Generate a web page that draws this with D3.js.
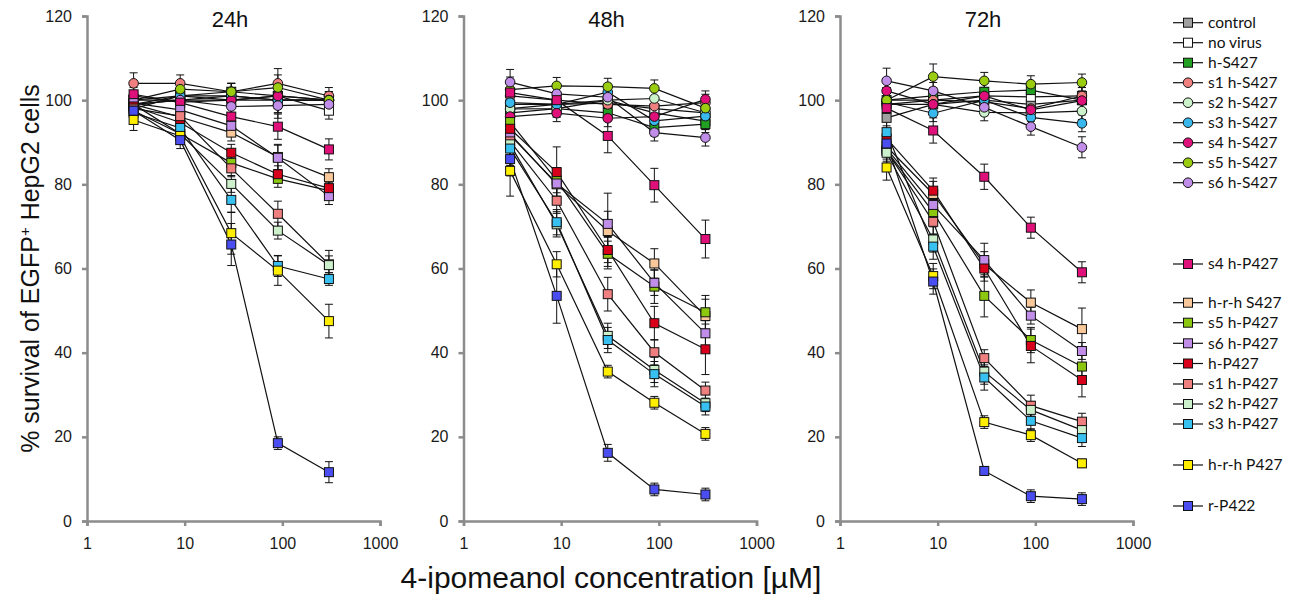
<!DOCTYPE html>
<html>
<head>
<meta charset="utf-8">
<script src="https://cdn.jsdelivr.net/npm/d3@7"></script>
<style>
  body { margin: 0; background: #fff; }
  svg text { font-family: "Liberation Sans", Arial, sans-serif; }
  .legend text { font-family: Lato, "Open Sans", sans-serif; }
</style>
</head>
<body>
<svg id="chart"></svg>
<script>
const width = 1303, height = 601;

// concentrations (µM) and time points
const concentrations = [3, 9, 30, 90, 300];
const timePoints = ["24h", "48h", "72h"];
const xTicks = [1, 10, 100, 1000];
const yTicks = [0, 20, 40, 60, 80, 100, 120];

const seriesNames = ["control", "no virus", "h-S427", "s1 h-S427", "s2 h-S427", "s3 h-S427",
  "s4 h-S427", "s5 h-S427", "s6 h-S427", "s4 h-P427", "h-r-h S427", "s5 h-P427", "s6 h-P427",
  "h-P427", "s1 h-P427", "s2 h-P427", "s3 h-P427", "h-r-h P427", "r-P422"];
const seriesShapes = ["sq", "sq", "sq", "ci", "ci", "ci", "ci", "ci", "ci",
  "sq", "sq", "sq", "sq", "sq", "sq", "sq", "sq", "sq", "sq"];
const seriesColors = ["#a0a0a0", "#ffffff", "#22a022", "#f08080", "#ccf2cc", "#38b8ec",
  "#e0107a", "#9acd10", "#c08ee8", "#e0107a", "#f8c89a", "#8cc810", "#c08ee8",
  "#d8001a", "#f07f80", "#ccf0cc", "#38c0f0", "#ffee00", "#4a4ef0"];

// % survival, one row per series (same order as seriesNames)
const survival24 = [
  [100, 100, 101, 100, 100],
  [99, 101, 100, 101, 97.5],
  [100, 101, 102, 101, 100],
  [104, 104, 102, 104, 101],
  [99, 100, 100, 100, 100],
  [98, 101, 101, 100, 100],
  [101, 99.5, 100, 101, 100],
  [100, 102.6, 102, 103, 100],
  [99, 100, 98.5, 98.7, 99],
  [101.4, 99.4, 96.1, 93.7, 88.3],
  [99, 96, 92.3, 86.5, 81.7],
  [99, 92, 85.1, 81.3, 78.5],
  [99.3, 97.7, 93.9, 86.3, 77.2],
  [98.5, 94.7, 87.5, 82.4, 79.1],
  [98, 96.2, 83.8, 73, 61],
  [97.5, 92, 80.1, 69, 60.8],
  [97, 93.4, 76.3, 60.6, 57.5],
  [95.3, 91.5, 68.4, 59.5, 47.5],
  [97.5, 90.5, 65.7, 18.5, 11.6]
];
const survival48 = [
  [99, 99, 100, 97, 95],
  [98, 99, 99.3, 98, 97],
  [97, 98, 97, 93.5, 94.3],
  [101, 100, 99, 98.6, 99.4],
  [97.9, 98, 100, 100.4, 97],
  [99.4, 99, 101.9, 95.1, 96.2],
  [96.1, 96.9, 95.7, 96.1, 100.2],
  [102.5, 103.4, 103.2, 102.8, 98.1],
  [104.3, 101.5, 100.7, 92.3, 91.1],
  [101.8, 100, 91.5, 79.8, 67],
  [92, 80, 68.9, 61.2, 48.7],
  [94.8, 81, 63.5, 55.7, 49.6],
  [91.7, 80.2, 70.6, 56.6, 44.6],
  [93.2, 82.9, 64.4, 47, 40.8],
  [90.2, 76.1, 53.9, 40.1, 31],
  [89.5, 70.5, 44, 35.9, 28],
  [88.5, 71, 43, 34.9, 27.2],
  [83.2, 61, 35.5, 28.1, 20.7],
  [86, 53.5, 16.2, 7.5, 6.3]
];
const survival72 = [
  [95.8, 99, 100, 99, 100],
  [99, 100, 101, 100.8, 101],
  [100, 101, 102, 102.4, 100],
  [100, 100, 99.6, 98, 101],
  [99, 99, 97.1, 97, 97.4],
  [99.5, 96.9, 100, 95.9, 94.5],
  [102.2, 99, 101, 97.7, 99.9],
  [100, 105.6, 104.6, 103.8, 104.2],
  [104.6, 102.2, 98.3, 93.7, 88.8],
  [98.1, 92.8, 81.8, 69.7, 59.1],
  [89, 77.7, 61, 51.9, 45.6],
  [88, 73.4, 53.5, 43, 36.7],
  [88.5, 75.1, 62, 48.8, 40.4],
  [90.9, 78.5, 60, 41.6, 33.5],
  [88, 71.1, 38.7, 27.4, 23.6],
  [87.5, 66.9, 35.5, 26.4, 21.6],
  [92.4, 65.2, 34.1, 23.8, 19.7],
  [84, 58.2, 23.5, 20.4, 13.7],
  [89.7, 56.9, 11.9, 5.9, 5.2]
];

// standard deviations, same layout
const sd24 = [
  [2, 2, 2, 2, 1.5], [2, 2, 1.5, 2, 2], [2, 2, 2, 3, 2], [2.5, 2, 2, 3.5, 2],
  [2, 2, 2, 3, 2], [2, 2, 2, 3, 2], [2, 2, 2, 3, 2], [2, 2, 2, 3, 2], [2, 2, 2, 3, 2],
  [2, 2, 2, 3, 2.5], [2, 2, 2, 3, 2], [2, 2, 2, 2, 2], [2, 2, 2, 3, 2], [2, 2, 2, 2, 2],
  [2, 2, 2, 3, 2], [2, 2, 2, 2, 3.5], [2, 2, 3, 2.5, 1.5], [2.5, 2, 5, 3.5, 4], [2, 2, 5, 1.5, 2.5]
];
const sd48 = [
  [3, 2, 2, 2, 2], [3, 2, 2, 2, 2], [3, 2, 2, 2, 2], [4, 2, 2, 2, 2],
  [3, 2, 2, 2, 2], [3, 2, 2, 2, 2], [3, 2, 2, 2, 2], [3, 2, 2, 2, 2], [3, 2, 2, 2, 2],
  [3, 2, 4, 4, 4.5], [4, 3, 9, 3.5, 4], [4, 3, 3, 4, 4], [4, 3, 3, 3, 3], [4, 6, 3, 4, 6],
  [4, 3, 4, 3, 2], [4, 3, 3, 3, 2], [4, 3, 3, 3, 2], [6, 3, 1.5, 1.5, 1.5], [4, 6.5, 2, 1.5, 1.5]
];
const sd72 = [
  [3, 2, 2, 2, 2], [3, 2, 2, 2, 2], [3, 2, 2, 2, 2], [3, 2, 2, 2, 2],
  [3, 2, 2, 2, 2], [3, 2, 2, 2, 2], [3, 2, 2, 2, 2], [3, 3, 2, 2, 2], [3, 2, 2, 2, 2.5],
  [3, 3, 3, 2.5, 2.5], [3, 3, 3, 3, 5], [3, 3, 5, 3, 3], [3, 3, 4, 2, 2], [3, 3, 3, 4, 4],
  [3, 3, 2, 2.5, 2], [3, 3, 3, 2, 2], [3, 3, 3, 2, 2], [3, 3, 1.5, 1.5, 1], [3, 3, 1, 1.5, 1.5]
];

const panelData = [survival24, survival48, survival72];
const panelSd = [sd24, sd48, sd72];

const svg = d3.select("#chart")
    .attr("width", width)
    .attr("height", height);

const panelLeft = [87, 463.5, 840];
const panelWidth = 293;
const plotTop = 16, plotBottom = 521;
const axisColor = "#8c8c8c";

const y = d3.scaleLinear().domain([0, 120]).range([plotBottom, plotTop]);

function drawMarker(g, shape, color, cx, cy) {
    if (shape === "sq") {
        g.append("rect")
            .attr("x", cx - 4.5).attr("y", cy - 4.5)
            .attr("width", 9).attr("height", 9)
            .attr("fill", color).attr("stroke", "#111").attr("stroke-width", 1);
    } else {
        g.append("circle")
            .attr("cx", cx).attr("cy", cy).attr("r", 4.8)
            .attr("fill", color).attr("stroke", "#111").attr("stroke-width", 1);
    }
}

panelData.forEach((rows, p) => {
    const x = d3.scaleLog().domain([1, 1000]).range([panelLeft[p], panelLeft[p] + panelWidth]);
    const g = svg.append("g");

    // axes
    const yAxis = g.append("g")
        .attr("transform", `translate(${panelLeft[p]},0)`)
        .call(d3.axisLeft(y).tickValues(yTicks).tickSize(5).tickPadding(10));
    const xAxis = g.append("g")
        .attr("transform", `translate(0,${plotBottom})`)
        .call(d3.axisBottom(x).tickValues(xTicks).tickFormat(d3.format("d")).tickSize(5).tickPadding(12));
    [yAxis, xAxis].forEach(a => {
        a.select(".domain").attr("stroke", axisColor).attr("stroke-width", 2.5);
        a.selectAll(".tick line").attr("stroke", axisColor).attr("stroke-width", 2.5);
        a.selectAll(".tick text").attr("fill", "#1a1a1a").style("font-size", "16px");
    });

    g.append("text")
        .attr("x", panelLeft[p] + 143)
        .attr("y", 27)
        .attr("text-anchor", "middle")
        .style("font-size", "22px")
        .attr("fill", "#111")
        .text(timePoints[p]);

    const line = d3.line()
        .x((d, i) => x(concentrations[i]))
        .y(d => y(d));

    // connecting lines
    rows.forEach(r => {
        g.append("path")
            .attr("d", line(r))
            .attr("fill", "none")
            .attr("stroke", "#111")
            .attr("stroke-width", 1.2);
    });

    // error bars
    rows.forEach((r, s) => {
        r.forEach((v, i) => {
            const cx = x(concentrations[i]);
            const e = panelSd[p][s][i];
            const y1 = y(v + e), y2 = y(v - e);
            g.append("line").attr("x1", cx).attr("x2", cx).attr("y1", y1).attr("y2", y2)
                .attr("stroke", "#111").attr("stroke-width", 1);
            [y1, y2].forEach(yy => {
                g.append("line").attr("x1", cx - 4).attr("x2", cx + 4).attr("y1", yy).attr("y2", yy)
                    .attr("stroke", "#111").attr("stroke-width", 1);
            });
        });
    });

    // markers
    rows.forEach((r, s) => {
        r.forEach((v, i) => {
            drawMarker(g, seriesShapes[s], seriesColors[s], x(concentrations[i]), y(v));
        });
    });
});

// axis titles
svg.append("text")
    .attr("transform", `translate(30,${(plotTop + plotBottom) / 2}) rotate(-90)`)
    .attr("text-anchor", "middle")
    .attr("dy", "0.35em")
    .style("font-size", "25px")
    .attr("fill", "#111")
    .html("% survival of EGFP<tspan dy='-9' font-size='15px'>+</tspan><tspan dy='9'> HepG2 cells</tspan>");

svg.append("text")
    .attr("x", 611)
    .attr("y", 588)
    .attr("text-anchor", "middle")
    .style("font-size", "30px")
    .attr("fill", "#111")
    .text("4-ipomeanol concentration [µM]");

// legend
const legendY = [22.7, 42.7, 62.7, 82.7, 102.7, 122.7, 142.7, 162.7, 182.7,
  264, 302.7, 322.7, 343.3, 363.5, 384, 404, 424, 465, 506];
const legend = svg.append("g").attr("class", "legend");
seriesNames.forEach((name, s) => {
    const ly = legendY[s];
    legend.append("line")
        .attr("x1", 1173).attr("x2", 1203).attr("y1", ly).attr("y2", ly)
        .attr("stroke", "#111").attr("stroke-width", 1.2);
    drawMarker(legend, seriesShapes[s], seriesColors[s], 1188, ly);
    legend.append("text")
        .attr("x", 1208)
        .attr("y", ly)
        .attr("dy", "0.35em")
        .style("font-size", "15.5px")
        .attr("fill", "#111")
        .text(name);
});
</script>
</body>
</html>
